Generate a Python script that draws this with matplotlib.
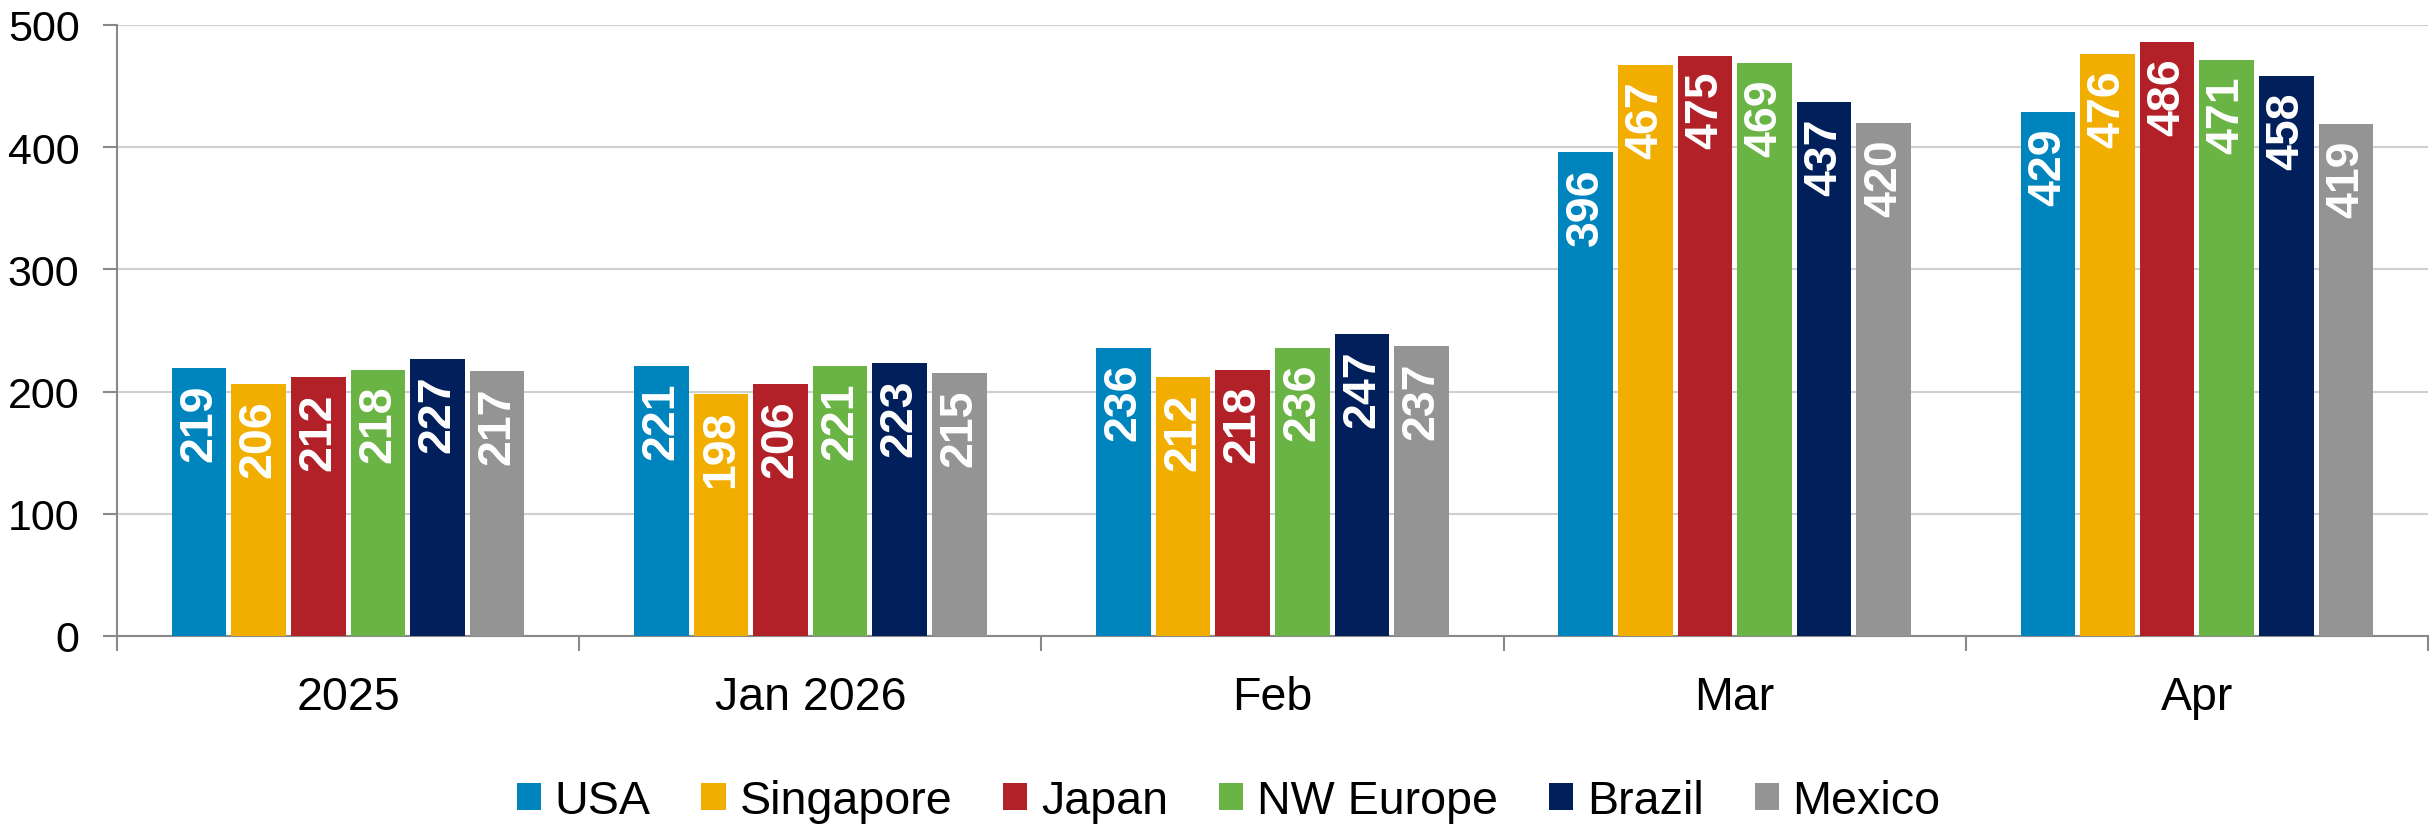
import matplotlib
matplotlib.use("Agg")
import matplotlib.pyplot as plt
import numpy as np

categories = ["2025", "Jan 2026", "Feb", "Mar", "Apr"]
series_names = ["USA", "Singapore", "Japan", "NW Europe", "Brazil", "Mexico"]
usa = [219, 221, 236, 396, 429]
singapore = [206, 198, 212, 467, 476]
japan = [212, 206, 218, 475, 486]
nw_europe = [218, 221, 236, 469, 471]
brazil = [227, 223, 247, 437, 458]
mexico = [217, 215, 237, 420, 419]
series_values = [usa, singapore, japan, nw_europe, brazil, mexico]
colors = ["#0084BD", "#F2AE00", "#B22028", "#69B445", "#001F5B", "#949494"]
yticks = [0, 100, 200, 300, 400, 500]

plt.rcParams['font.family'] = ['Liberation Sans', 'DejaVu Sans']

fig = plt.figure(figsize=(24.33, 8.29), dpi=100)
ax = fig.add_axes([117/2433, 1-637/829, (2428-117)/2433, (637-26)/829])

x = np.arange(len(categories))
pitch = 0.129
width = 0.118
n = len(series_names)
for j, (name, vals, c) in enumerate(zip(series_names, series_values, colors)):
    xs = x + (j - (n-1)/2) * pitch
    bars = ax.bar(xs, vals, width=width, color=c, label=name, zorder=3)
    for b, v in zip(bars, vals):
        ax.annotate(str(v), xy=(b.get_x()+b.get_width()/2, v), xytext=(0, -11),
                    textcoords='offset points', rotation=90, ha='center', va='top',
                    color='white', fontweight='bold', fontsize=33.5, zorder=4)

ax.set_xlim(-0.5, len(categories)-0.5)
ax.set_ylim(0, 500)
ax.set_yticks(yticks)
ax.set_yticklabels([str(t) for t in yticks])
ax.yaxis.grid(True, color='#D0D0D0', linewidth=1.5, zorder=0)
ax.set_axisbelow(True)

ax.set_xticks(np.arange(-0.5, len(categories)), minor=False)
ax.set_xticklabels([''] * (len(categories)+1))
ax.set_xticks(x, minor=True)
ax.set_xticklabels(categories, minor=True)
ax.tick_params(axis='x', which='major', length=11, width=1.5, color='#898989', direction='out')
ax.tick_params(axis='x', which='minor', length=0, pad=28, labelsize=33.5)
ax.tick_params(axis='y', length=10, width=1.5, color='#898989', pad=17, labelsize=31)

for s in ['top', 'right']:
    ax.spines[s].set_visible(False)
for s in ['left', 'bottom']:
    ax.spines[s].set_color('#898989')
    ax.spines[s].set_linewidth(1.5)

leg = fig.legend(loc='center', bbox_to_anchor=(0.505, 1-802/829), ncol=6, frameon=False,
                 fontsize=33.6, handlelength=0.515, handleheight=0.515, handletextpad=0.3,
                 columnspacing=1.09)

fig.savefig("out.png", dpi=100)
